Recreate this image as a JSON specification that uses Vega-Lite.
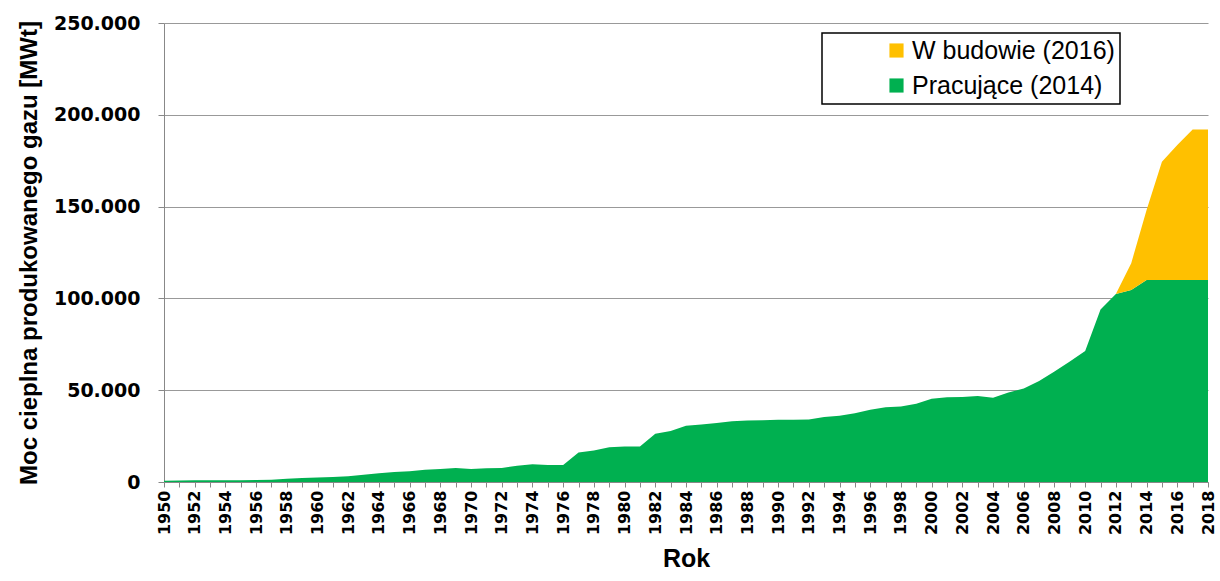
{
  "$schema": "https://vega.github.io/schema/vega-lite/v6.json",
  "width": 1044,
  "height": 459,
  "autosize": {"type": "none"},
  "padding": {"left": 164, "top": 23, "right": 12, "bottom": 99},
  "background": "white",
  "config": {
    "view": {"stroke": null},
    "locale": {"number": {"decimal": ",", "thousands": ".", "grouping": [3], "currency": ["", ""]}}
  },
  "data": {
    "values": [
      {"rok": 1950, "typ": "Pracujące (2014)", "moc": 700},
      {"rok": 1951, "typ": "Pracujące (2014)", "moc": 800},
      {"rok": 1952, "typ": "Pracujące (2014)", "moc": 900},
      {"rok": 1953, "typ": "Pracujące (2014)", "moc": 1000},
      {"rok": 1954, "typ": "Pracujące (2014)", "moc": 1000},
      {"rok": 1955, "typ": "Pracujące (2014)", "moc": 1000},
      {"rok": 1956, "typ": "Pracujące (2014)", "moc": 1100},
      {"rok": 1957, "typ": "Pracujące (2014)", "moc": 1200},
      {"rok": 1958, "typ": "Pracujące (2014)", "moc": 1800},
      {"rok": 1959, "typ": "Pracujące (2014)", "moc": 2200},
      {"rok": 1960, "typ": "Pracujące (2014)", "moc": 2500},
      {"rok": 1961, "typ": "Pracujące (2014)", "moc": 2700},
      {"rok": 1962, "typ": "Pracujące (2014)", "moc": 3100},
      {"rok": 1963, "typ": "Pracujące (2014)", "moc": 4000},
      {"rok": 1964, "typ": "Pracujące (2014)", "moc": 4700},
      {"rok": 1965, "typ": "Pracujące (2014)", "moc": 5500},
      {"rok": 1966, "typ": "Pracujące (2014)", "moc": 5800},
      {"rok": 1967, "typ": "Pracujące (2014)", "moc": 6700},
      {"rok": 1968, "typ": "Pracujące (2014)", "moc": 7100},
      {"rok": 1969, "typ": "Pracujące (2014)", "moc": 7600},
      {"rok": 1970, "typ": "Pracujące (2014)", "moc": 7100},
      {"rok": 1971, "typ": "Pracujące (2014)", "moc": 7500},
      {"rok": 1972, "typ": "Pracujące (2014)", "moc": 7600},
      {"rok": 1973, "typ": "Pracujące (2014)", "moc": 8900},
      {"rok": 1974, "typ": "Pracujące (2014)", "moc": 9600},
      {"rok": 1975, "typ": "Pracujące (2014)", "moc": 9300},
      {"rok": 1976, "typ": "Pracujące (2014)", "moc": 9300},
      {"rok": 1977, "typ": "Pracujące (2014)", "moc": 16000},
      {"rok": 1978, "typ": "Pracujące (2014)", "moc": 17200},
      {"rok": 1979, "typ": "Pracujące (2014)", "moc": 18900},
      {"rok": 1980, "typ": "Pracujące (2014)", "moc": 19400},
      {"rok": 1981, "typ": "Pracujące (2014)", "moc": 19300},
      {"rok": 1982, "typ": "Pracujące (2014)", "moc": 26300},
      {"rok": 1983, "typ": "Pracujące (2014)", "moc": 27800},
      {"rok": 1984, "typ": "Pracujące (2014)", "moc": 30600},
      {"rok": 1985, "typ": "Pracujące (2014)", "moc": 31300},
      {"rok": 1986, "typ": "Pracujące (2014)", "moc": 32200},
      {"rok": 1987, "typ": "Pracujące (2014)", "moc": 33100},
      {"rok": 1988, "typ": "Pracujące (2014)", "moc": 33500},
      {"rok": 1989, "typ": "Pracujące (2014)", "moc": 33700},
      {"rok": 1990, "typ": "Pracujące (2014)", "moc": 33900},
      {"rok": 1991, "typ": "Pracujące (2014)", "moc": 33900},
      {"rok": 1992, "typ": "Pracujące (2014)", "moc": 34100},
      {"rok": 1993, "typ": "Pracujące (2014)", "moc": 35400},
      {"rok": 1994, "typ": "Pracujące (2014)", "moc": 36100},
      {"rok": 1995, "typ": "Pracujące (2014)", "moc": 37400},
      {"rok": 1996, "typ": "Pracujące (2014)", "moc": 39400},
      {"rok": 1997, "typ": "Pracujące (2014)", "moc": 40700},
      {"rok": 1998, "typ": "Pracujące (2014)", "moc": 41100},
      {"rok": 1999, "typ": "Pracujące (2014)", "moc": 42600},
      {"rok": 2000, "typ": "Pracujące (2014)", "moc": 45400},
      {"rok": 2001, "typ": "Pracujące (2014)", "moc": 46100},
      {"rok": 2002, "typ": "Pracujące (2014)", "moc": 46300},
      {"rok": 2003, "typ": "Pracujące (2014)", "moc": 46900},
      {"rok": 2004, "typ": "Pracujące (2014)", "moc": 45900},
      {"rok": 2005, "typ": "Pracujące (2014)", "moc": 48700},
      {"rok": 2006, "typ": "Pracujące (2014)", "moc": 50900},
      {"rok": 2007, "typ": "Pracujące (2014)", "moc": 55000},
      {"rok": 2008, "typ": "Pracujące (2014)", "moc": 60200},
      {"rok": 2009, "typ": "Pracujące (2014)", "moc": 65700},
      {"rok": 2010, "typ": "Pracujące (2014)", "moc": 71300},
      {"rok": 2011, "typ": "Pracujące (2014)", "moc": 94000},
      {"rok": 2012, "typ": "Pracujące (2014)", "moc": 102400},
      {"rok": 2013, "typ": "Pracujące (2014)", "moc": 104600},
      {"rok": 2014, "typ": "Pracujące (2014)", "moc": 110000},
      {"rok": 2015, "typ": "Pracujące (2014)", "moc": 110000},
      {"rok": 2016, "typ": "Pracujące (2014)", "moc": 110000},
      {"rok": 2017, "typ": "Pracujące (2014)", "moc": 110000},
      {"rok": 2018, "typ": "Pracujące (2014)", "moc": 110000},
      {"rok": 2012, "typ": "W budowie (2016)", "moc": 0},
      {"rok": 2013, "typ": "W budowie (2016)", "moc": 14600},
      {"rok": 2014, "typ": "W budowie (2016)", "moc": 38100},
      {"rok": 2015, "typ": "W budowie (2016)", "moc": 64400},
      {"rok": 2016, "typ": "W budowie (2016)", "moc": 73500},
      {"rok": 2017, "typ": "W budowie (2016)", "moc": 82000},
      {"rok": 2018, "typ": "W budowie (2016)", "moc": 82000}
    ]
  },
  "mark": {"type": "area", "interpolate": "linear"},
  "encoding": {
    "x": {
      "field": "rok",
      "type": "quantitative",
      "scale": {"domain": [1950, 2018], "nice": false, "zero": false},
      "axis": {
        "title": "Rok",
        "titleFont": "Liberation Sans",
        "titleFontSize": 25,
        "titleFontWeight": "bold",
        "titleColor": "black",
        "titlePadding": 12,
        "values": [1950,1951,1952,1953,1954,1955,1956,1957,1958,1959,1960,1961,1962,1963,1964,1965,1966,1967,1968,1969,1970,1971,1972,1973,1974,1975,1976,1977,1978,1979,1980,1981,1982,1983,1984,1985,1986,1987,1988,1989,1990,1991,1992,1993,1994,1995,1996,1997,1998,1999,2000,2001,2002,2003,2004,2005,2006,2007,2008,2009,2010,2011,2012,2013,2014,2015,2016,2017,2018],
        "labelExpr": "datum.value % 2 == 0 ? '' + datum.value : ''",
        "labelAngle": -90,
        "labelOverlap": false,
        "labelFont": "DejaVu Sans",
        "labelFontSize": 16,
        "labelFontWeight": "bold",
        "labelColor": "black",
        "labelPadding": 3,
        "tickSize": 5,
        "tickColor": "#888888",
        "domainColor": "#888888",
        "grid": false
      }
    },
    "y": {
      "field": "moc",
      "type": "quantitative",
      "stack": "zero",
      "scale": {"domain": [0, 250000], "nice": false},
      "axis": {
        "title": "Moc cieplna produkowanego gazu [MWt]",
        "titleFont": "Liberation Sans",
        "titleFontSize": 24,
        "titleFontWeight": "bold",
        "titleColor": "black",
        "titlePadding": 12,
        "values": [0, 50000, 100000, 150000, 200000, 250000],
        "format": ",d",
        "labelFont": "DejaVu Sans",
        "labelFontSize": 19,
        "labelFontWeight": "bold",
        "labelColor": "black",
        "labelPadding": 18,
        "tickSize": 6,
        "tickColor": "#888888",
        "domainColor": "#888888",
        "grid": true,
        "gridColor": "#999999",
        "gridWidth": 1
      }
    },
    "order": {"field": "typ", "sort": "ascending"},
    "color": {
      "field": "typ",
      "type": "nominal",
      "scale": {"domain": ["W budowie (2016)", "Pracujące (2014)"], "range": ["#FFC000", "#00B050"]},
      "legend": {
        "title": null,
        "orient": "none",
        "legendX": 658,
        "legendY": 10,
        "padding": 5,
        "symbolOffset": 57,
        "symbolType": "square",
        "symbolSize": 200,
        "symbolStrokeWidth": 0,
        "labelFont": "Liberation Sans",
        "labelFontSize": 25,
        "labelLimit": 400,
        "labelColor": "black",
        "labelOffset": 3,
        "rowPadding": 9,
        "strokeColor": "black",
        "fillColor": "white",
        "encode": {"legend": {"update": {"strokeWidth": {"value": 1.5}}}}
      }
    }
  }
}
